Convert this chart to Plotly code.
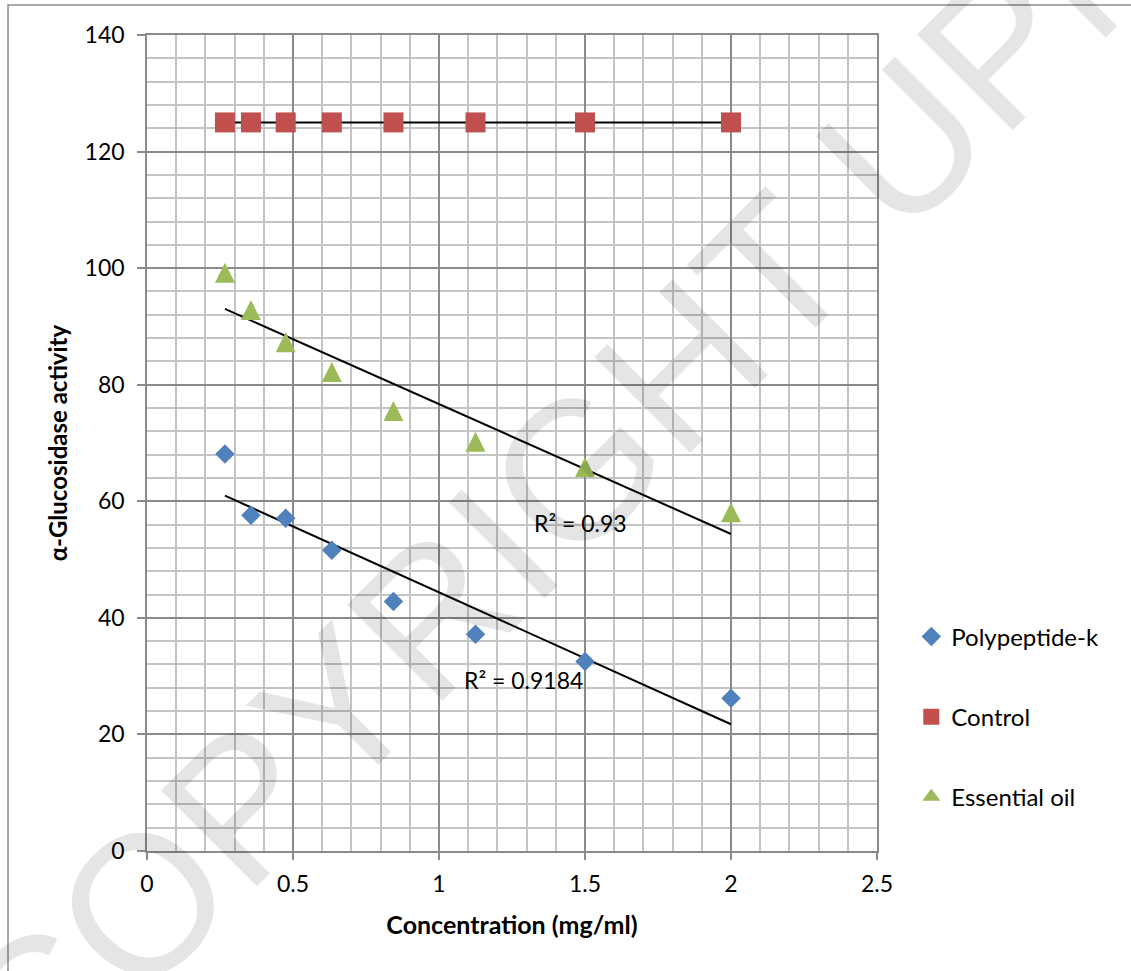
import numpy as np
import plotly.graph_objects as go

# ---- data ----
concentration = [0.267, 0.356, 0.475, 0.633, 0.844, 1.125, 1.5, 2.0]
polypeptide_k = [68.1, 57.6, 57.1, 51.6, 42.8, 37.2, 32.5, 26.2]
control = [125, 125, 125, 125, 125, 125, 125, 125]
essential_oil = [99.2, 92.8, 87.3, 82.2, 75.5, 70.2, 65.9, 58.1]
r2_labels = ["R² = 0.9184", "R² = 0.93"]
x_ticks = [0, 0.5, 1, 1.5, 2, 2.5]
x_tick_text = ["0", "0.5", "1", "1.5", "2", "2.5"]
y_ticks = [0, 20, 40, 60, 80, 100, 120, 140]

BLUE = "#4F81BD"
RED = "#C0504D"
GREEN = "#9BBB59"
FONT = "Lato"

x = np.array(concentration)
xs = np.array([x.min(), x.max()])


def trend(y):
    m, b = np.polyfit(x, np.array(y), 1)
    return m * xs + b


fig = go.Figure()

# trendlines
for ys in (polypeptide_k, control, essential_oil):
    fig.add_trace(go.Scatter(x=xs, y=trend(ys), mode="lines",
                             line=dict(color="black", width=2),
                             showlegend=False, hoverinfo="skip"))

fig.add_trace(go.Scatter(x=concentration, y=polypeptide_k, mode="markers",
                         name="Polypeptide-k", legendgroup="a",
                         marker=dict(symbol="diamond", size=15, color=BLUE)))
fig.add_trace(go.Scatter(x=concentration, y=control, mode="markers",
                         name="Control", legendgroup="b",
                         marker=dict(symbol="square", size=20, color=RED)))
fig.add_trace(go.Scatter(x=concentration, y=essential_oil, mode="markers",
                         name="Essential oil", legendgroup="c", showlegend=False,
                         marker=dict(symbol="arrow-down", angle=180, standoff=10,
                                     size=20, color=GREEN)))
# legend entry for the triangle series (same series, legend symbol only)
fig.add_trace(go.Scatter(x=[None], y=[None], mode="markers",
                         name="Essential oil", legendgroup="c",
                         marker=dict(symbol="triangle-up", size=17, color=GREEN)))

# R² labels
fig.add_annotation(x=1.29, y=29.3, text=r2_labels[0], showarrow=False,
                   font=dict(family=FONT, size=23, color="black"))
fig.add_annotation(x=1.486, y=56.3, text=r2_labels[1], showarrow=False,
                   font=dict(family=FONT, size=23, color="black"))

# watermark
fig.add_annotation(xref="paper", yref="paper", x=0.586, y=0.465,
                   xanchor="center", yanchor="middle",
                   text="COPYRIGHT UPM", showarrow=False, textangle=-45,
                   font=dict(family="Liberation Sans", size=197,
                             color="rgba(0,0,0,0.10)"))

# outer chart border
fig.add_shape(type="rect", xref="paper", yref="paper",
              x0=-0.1904, x1=1.36, y0=-0.16, y1=1.0368,
              line=dict(color="#8c8c8c", width=1.5), layer="above")

GRID_MAJOR = "#8a8a8a"
GRID_MINOR = "#c4c4c4"

fig.update_xaxes(range=[0, 2.5], tickvals=x_ticks, ticktext=x_tick_text,
                 showgrid=True, gridcolor=GRID_MAJOR, gridwidth=1.5,
                 minor=dict(dtick=0.1, showgrid=True, gridcolor=GRID_MINOR, gridwidth=1.5),
                 showline=True, linecolor=GRID_MAJOR, linewidth=1.5, mirror=True,
                 ticks="outside", ticklen=7, tickcolor=GRID_MAJOR, tickwidth=1.5,
                 ticklabelstandoff=5,
                 tickfont=dict(family=FONT, size=23, color="black"),
                 zeroline=False, automargin=False,
                 title=dict(text="<b>Concentration (mg/ml)</b>", standoff=20,
                            font=dict(family=FONT, size=25, color="black")))
fig.update_yaxes(range=[0, 140], tickvals=y_ticks,
                 showgrid=True, gridcolor=GRID_MAJOR, gridwidth=1.5,
                 minor=dict(dtick=4, showgrid=True, gridcolor=GRID_MINOR, gridwidth=1.5),
                 showline=True, linecolor=GRID_MAJOR, linewidth=1.5, mirror=True,
                 ticks="outside", ticklen=8, tickcolor=GRID_MAJOR, tickwidth=1.5,
                 ticklabelstandoff=8,
                 tickfont=dict(family=FONT, size=23, color="black"),
                 zeroline=False, automargin=False,
                 title=dict(text="<b>α-Glucosidase activity</b>", standoff=10,
                            font=dict(family=FONT, size=24, color="black")))

fig.update_layout(
    width=1131, height=971,
    margin=dict(l=147, r=254, t=35, b=120),
    paper_bgcolor="white", plot_bgcolor="white",
    font=dict(family=FONT, color="black"),
    legend=dict(x=1.047, y=0.29, xanchor="left", yanchor="top",
                font=dict(family=FONT, size=24, color="black"),
                tracegroupgap=46, bgcolor="rgba(0,0,0,0)"),
)

fig.write_html("out.html", config={"displayModeBar": False},
               post_script="document.body.style.margin='0px';document.body.style.padding='0px';")
